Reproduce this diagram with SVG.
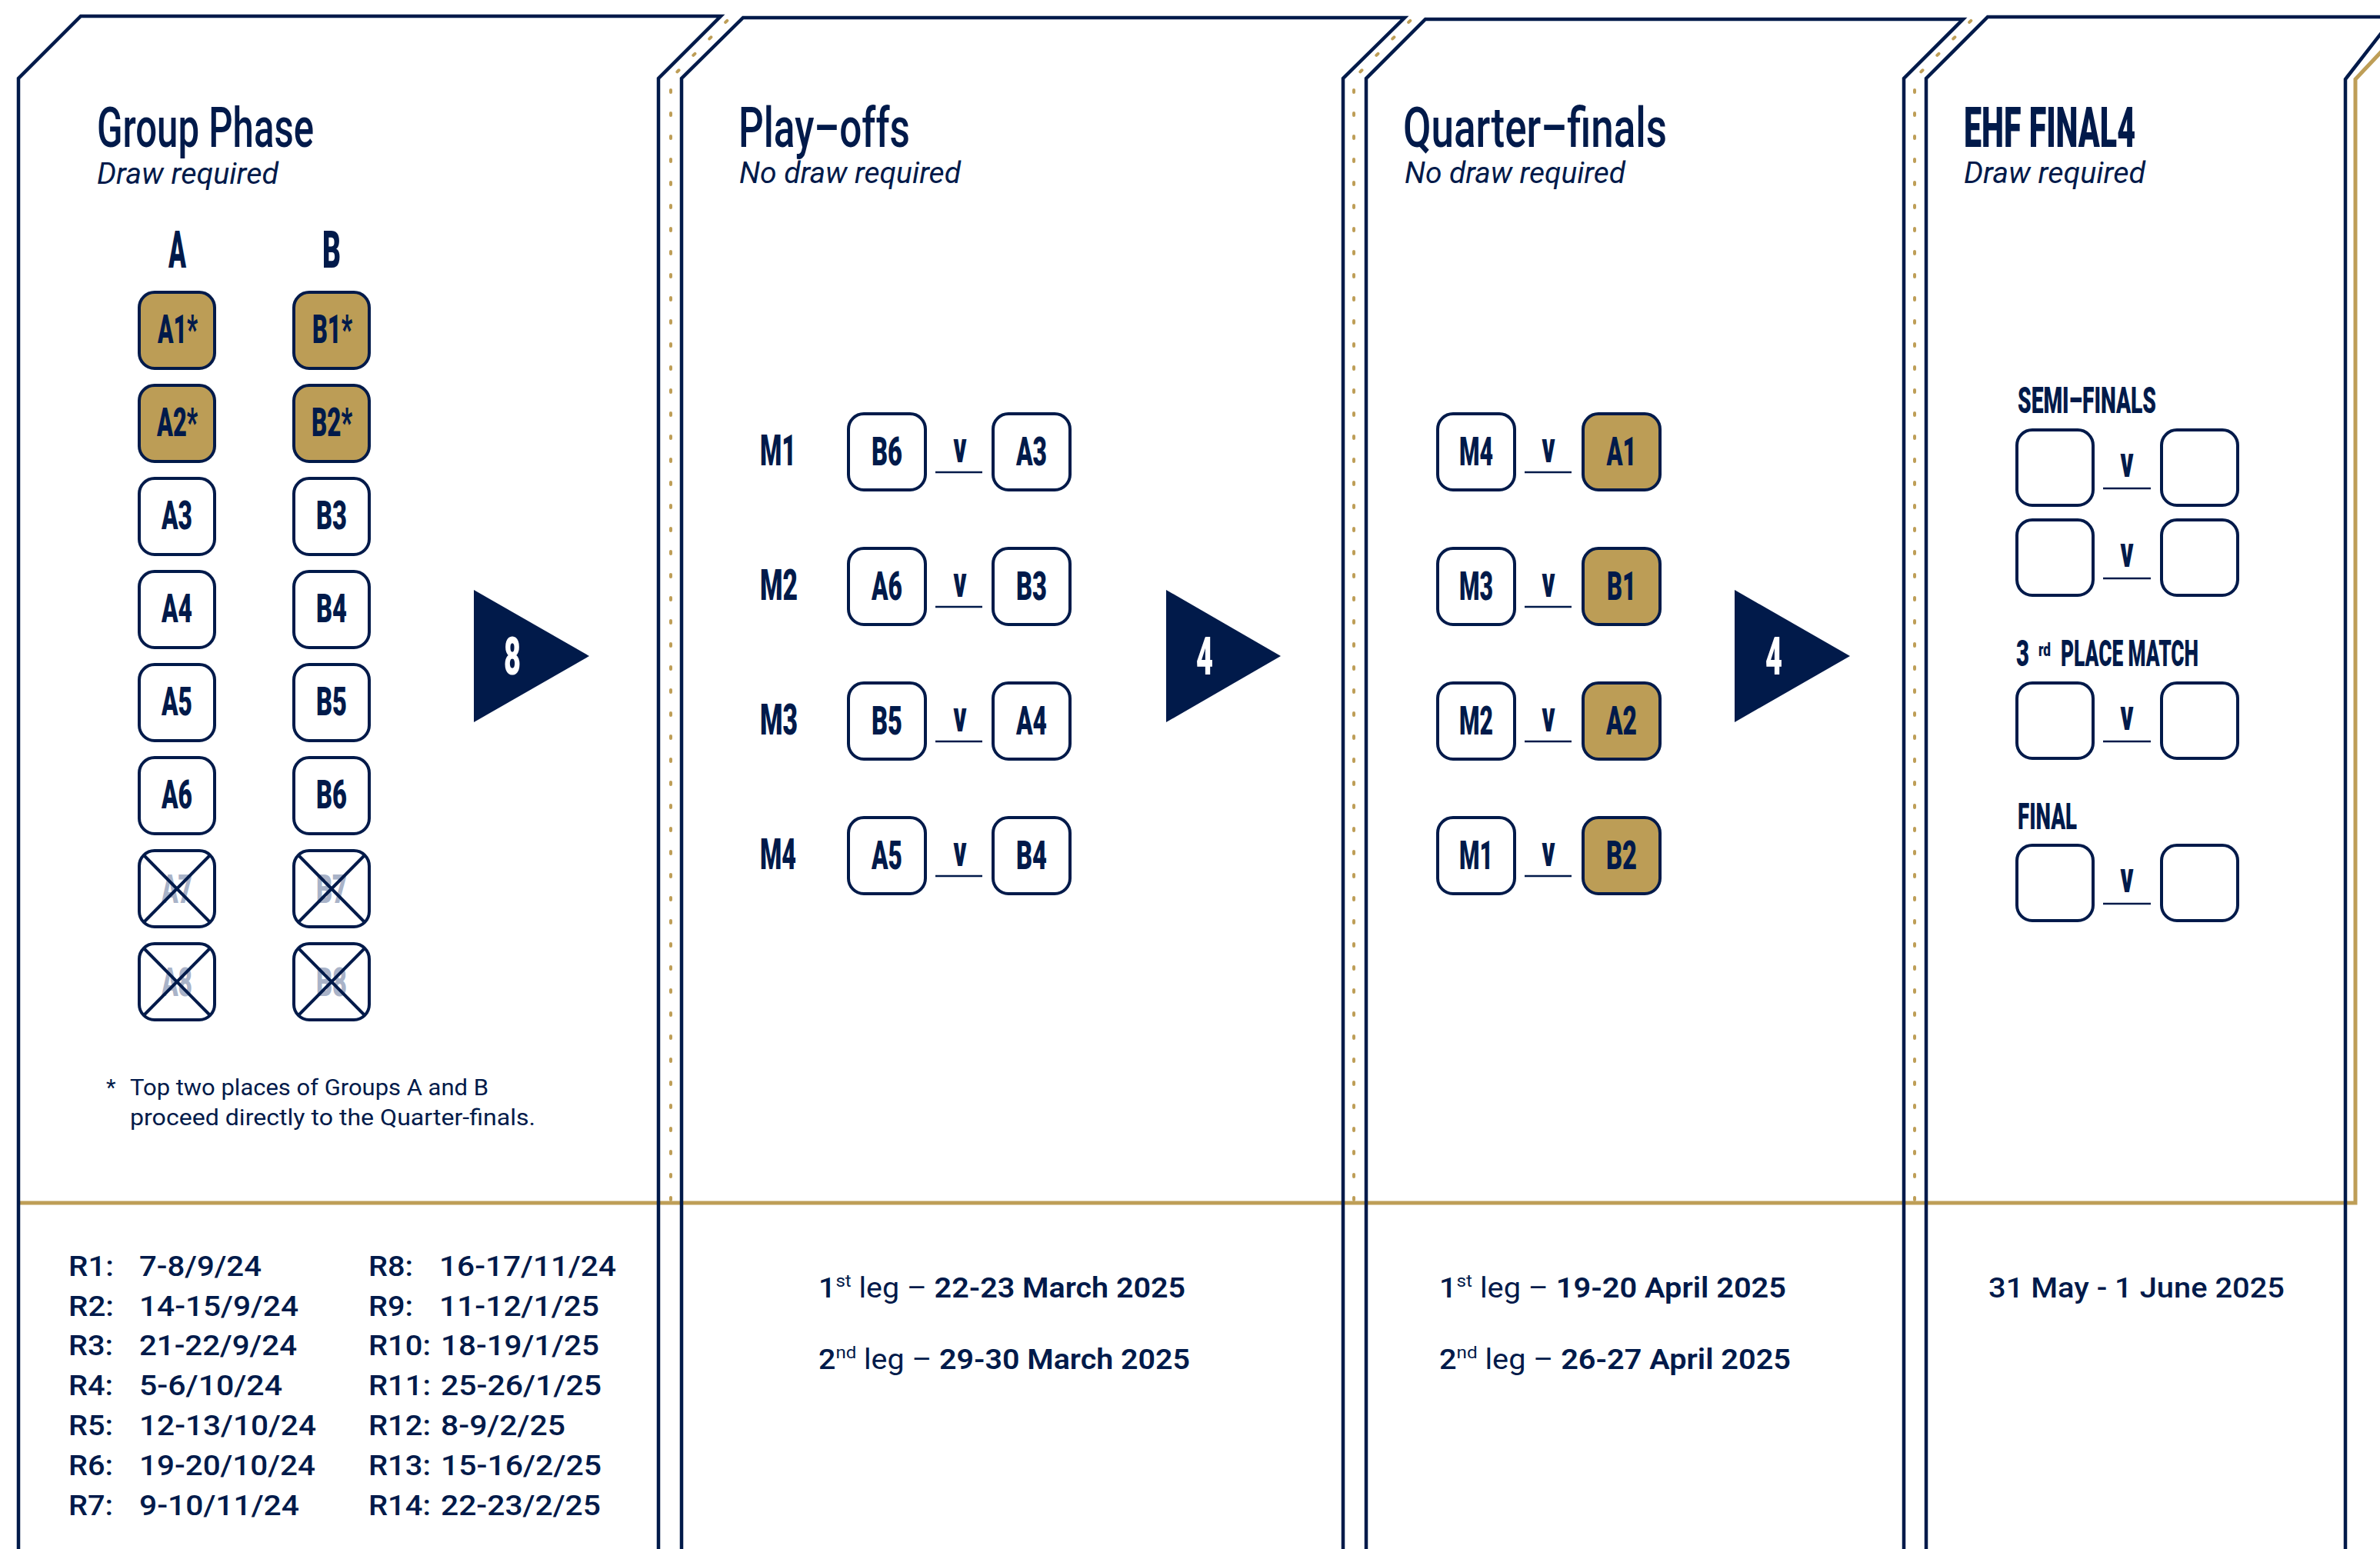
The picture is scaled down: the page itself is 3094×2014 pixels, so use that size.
<svg xmlns="http://www.w3.org/2000/svg" width="3094" height="2014" viewBox="0 0 3094 2014">
<defs>
<style>
.nv{fill:none;stroke:#011A4A;stroke-width:4.5}
.gd{fill:none;stroke:#BE9E57;stroke-width:5}
.dash{fill:none;stroke:#BE9E57;stroke-width:4;stroke-dasharray:3 27;stroke-linecap:round}
.box{fill:#fff;stroke:#011A4A;stroke-width:4}
.gbox{fill:#BC9D56;stroke:#011A4A;stroke-width:4}
.xl{stroke:#011A4A;stroke-width:4}
.ul{stroke:#011A4A;stroke-width:2.5}
.t{font-family:Roboto,"Liberation Sans",sans-serif;fill:#011A4A}
.ttl{font-size:73px;font-weight:500}
.ttlb{font-size:73px;font-weight:900}
.sub{font-size:38px;font-style:italic;font-weight:400}
.hd{font-size:67px;font-weight:900}
.lb{font-size:52px;font-weight:900;text-anchor:middle}
.lbs{font-size:52px;font-weight:900}
.gray{fill:#A9B3C8}
.ml{font-size:56px;font-weight:900}
.v{font-size:58px;font-weight:900;text-anchor:middle}
.num{font-size:69px;font-weight:900;fill:#fff;text-anchor:middle}
.fh{font-size:48px;font-weight:900}
.sup{font-size:24px;font-weight:900}
.fn{font-size:29px;font-weight:400}
.dt{font-size:36px;font-weight:500}
</style>
</defs>
<rect width="3094" height="2014" fill="#fff"/>

<g id="frame">
<path class="gd" d="M24,1564 H3062 V103 L3110,52"/>
<path class="dash" d="M872,1560 V102 L950,22"/>
<path class="dash" d="M1760,1560 V102 L1838,22"/>
<path class="dash" d="M2489,1560 V102 L2567,22"/>
<path class="nv" d="M24,2014 V102 L105,21 H937 L856,102 V2014"/>
<path class="nv" d="M886,2014 V102 L966,23 H1826 L1746,102 V2014"/>
<path class="nv" d="M1776,2014 V102 L1853,25 H2552 L2475,102 V2014"/>
<path class="nv" d="M2504,2014 V102 L2584,22 H3112 L3049,103 V2014"/>
</g>

<g id="titles">
<text class="t ttl" x="126" y="191" textLength="282" lengthAdjust="spacingAndGlyphs">Group Phase</text>
<text class="t sub" x="126" y="239" textLength="236" lengthAdjust="spacingAndGlyphs">Draw required</text>
<text class="t ttl" x="960" y="191" textLength="223" lengthAdjust="spacingAndGlyphs">Play–offs</text>
<text class="t sub" x="961" y="238" textLength="288" lengthAdjust="spacingAndGlyphs">No draw required</text>
<text class="t ttl" x="1824" y="191" textLength="343" lengthAdjust="spacingAndGlyphs">Quarter–finals</text>
<text class="t sub" x="1826" y="238" textLength="287" lengthAdjust="spacingAndGlyphs">No draw required</text>
<text class="t ttlb" x="2553" y="191" textLength="223" lengthAdjust="spacingAndGlyphs">EHF FINAL4</text>
<text class="t sub" x="2553" y="238" textLength="236" lengthAdjust="spacingAndGlyphs">Draw required</text>
</g>

<g id="group-phase">
<text class="t hd" x="219" y="348" textLength="23" lengthAdjust="spacingAndGlyphs">A</text>
<text class="t hd" x="419" y="348" textLength="24" lengthAdjust="spacingAndGlyphs">B</text>
<g id="A1"><rect class="gbox" x="181" y="380" width="98" height="99" rx="20"/><text class="t lbs" x="205" y="446" textLength="52" lengthAdjust="spacingAndGlyphs">A1*</text></g>
<g id="B1"><rect class="gbox" x="382" y="380" width="98" height="99" rx="20"/><text class="t lbs" x="406" y="446" textLength="52" lengthAdjust="spacingAndGlyphs">B1*</text></g>
<g id="A2"><rect class="gbox" x="181" y="501" width="98" height="99" rx="20"/><text class="t lbs" x="204" y="567" textLength="53" lengthAdjust="spacingAndGlyphs">A2*</text></g>
<g id="B2"><rect class="gbox" x="382" y="501" width="98" height="99" rx="20"/><text class="t lbs" x="405" y="567" textLength="53" lengthAdjust="spacingAndGlyphs">B2*</text></g>
<g id="A3"><rect class="box" x="181" y="622" width="98" height="99" rx="20"/><text class="t lb" x="230" y="688" textLength="40" lengthAdjust="spacingAndGlyphs">A3</text></g>
<g id="B3"><rect class="box" x="382" y="622" width="98" height="99" rx="20"/><text class="t lb" x="431" y="688" textLength="40" lengthAdjust="spacingAndGlyphs">B3</text></g>
<g id="A4"><rect class="box" x="181" y="743" width="98" height="99" rx="20"/><text class="t lb" x="230" y="809" textLength="40" lengthAdjust="spacingAndGlyphs">A4</text></g>
<g id="B4"><rect class="box" x="382" y="743" width="98" height="99" rx="20"/><text class="t lb" x="431" y="809" textLength="40" lengthAdjust="spacingAndGlyphs">B4</text></g>
<g id="A5"><rect class="box" x="181" y="864" width="98" height="99" rx="20"/><text class="t lb" x="230" y="930" textLength="40" lengthAdjust="spacingAndGlyphs">A5</text></g>
<g id="B5"><rect class="box" x="382" y="864" width="98" height="99" rx="20"/><text class="t lb" x="431" y="930" textLength="40" lengthAdjust="spacingAndGlyphs">B5</text></g>
<g id="A6"><rect class="box" x="181" y="985" width="98" height="99" rx="20"/><text class="t lb" x="230" y="1051" textLength="40" lengthAdjust="spacingAndGlyphs">A6</text></g>
<g id="B6"><rect class="box" x="382" y="985" width="98" height="99" rx="20"/><text class="t lb" x="431" y="1051" textLength="40" lengthAdjust="spacingAndGlyphs">B6</text></g>
<g id="A7"><rect class="box" x="181" y="1106" width="98" height="99" rx="20"/><text class="t lb gray" x="230" y="1174" textLength="40" lengthAdjust="spacingAndGlyphs">A7</text><line class="xl" x1="188" y1="1113" x2="272" y2="1198"/><line class="xl" x1="272" y1="1113" x2="188" y2="1198"/></g>
<g id="B7"><rect class="box" x="382" y="1106" width="98" height="99" rx="20"/><text class="t lb gray" x="431" y="1174" textLength="40" lengthAdjust="spacingAndGlyphs">B7</text><line class="xl" x1="389" y1="1113" x2="473" y2="1198"/><line class="xl" x1="473" y1="1113" x2="389" y2="1198"/></g>
<g id="A8"><rect class="box" x="181" y="1227" width="98" height="99" rx="20"/><text class="t lb gray" x="230" y="1295" textLength="40" lengthAdjust="spacingAndGlyphs">A8</text><line class="xl" x1="188" y1="1234" x2="272" y2="1319"/><line class="xl" x1="272" y1="1234" x2="188" y2="1319"/></g>
<g id="B8"><rect class="box" x="382" y="1227" width="98" height="99" rx="20"/><text class="t lb gray" x="431" y="1295" textLength="40" lengthAdjust="spacingAndGlyphs">B8</text><line class="xl" x1="389" y1="1234" x2="473" y2="1319"/><line class="xl" x1="473" y1="1234" x2="389" y2="1319"/></g>
<g id="footnote">
<text class="t fn" x="138" y="1424">*</text>
<text class="t fn" x="169" y="1424" textLength="466" lengthAdjust="spacingAndGlyphs">Top two places of Groups A and B</text>
<text class="t fn" x="169" y="1463" textLength="527" lengthAdjust="spacingAndGlyphs">proceed directly to the Quarter-finals.</text>
</g>
<g id="rounds">
<text class="t dt" x="89" y="1659" textLength="59" lengthAdjust="spacingAndGlyphs">R1:</text><text class="t dt" x="181" y="1659" textLength="159" lengthAdjust="spacingAndGlyphs">7-8/9/24</text>
<text class="t dt" x="89" y="1711" textLength="59" lengthAdjust="spacingAndGlyphs">R2:</text><text class="t dt" x="181" y="1711" textLength="207" lengthAdjust="spacingAndGlyphs">14-15/9/24</text>
<text class="t dt" x="89" y="1762" textLength="58" lengthAdjust="spacingAndGlyphs">R3:</text><text class="t dt" x="181" y="1762" textLength="205" lengthAdjust="spacingAndGlyphs">21-22/9/24</text>
<text class="t dt" x="89" y="1814" textLength="58" lengthAdjust="spacingAndGlyphs">R4:</text><text class="t dt" x="181" y="1814" textLength="186" lengthAdjust="spacingAndGlyphs">5-6/10/24</text>
<text class="t dt" x="89" y="1866" textLength="58" lengthAdjust="spacingAndGlyphs">R5:</text><text class="t dt" x="181" y="1866" textLength="230" lengthAdjust="spacingAndGlyphs">12-13/10/24</text>
<text class="t dt" x="89" y="1918" textLength="58" lengthAdjust="spacingAndGlyphs">R6:</text><text class="t dt" x="181" y="1918" textLength="229" lengthAdjust="spacingAndGlyphs">19-20/10/24</text>
<text class="t dt" x="89" y="1970" textLength="58" lengthAdjust="spacingAndGlyphs">R7:</text><text class="t dt" x="181" y="1970" textLength="208" lengthAdjust="spacingAndGlyphs">9-10/11/24</text>
<text class="t dt" x="479" y="1659" textLength="58" lengthAdjust="spacingAndGlyphs">R8:</text><text class="t dt" x="571" y="1659" textLength="230" lengthAdjust="spacingAndGlyphs">16-17/11/24</text>
<text class="t dt" x="479" y="1711" textLength="58" lengthAdjust="spacingAndGlyphs">R9:</text><text class="t dt" x="571" y="1711" textLength="208" lengthAdjust="spacingAndGlyphs">11-12/1/25</text>
<text class="t dt" x="479" y="1762" textLength="81" lengthAdjust="spacingAndGlyphs">R10:</text><text class="t dt" x="573" y="1762" textLength="206" lengthAdjust="spacingAndGlyphs">18-19/1/25</text>
<text class="t dt" x="479" y="1814" textLength="81" lengthAdjust="spacingAndGlyphs">R11:</text><text class="t dt" x="573" y="1814" textLength="209" lengthAdjust="spacingAndGlyphs">25-26/1/25</text>
<text class="t dt" x="479" y="1866" textLength="81" lengthAdjust="spacingAndGlyphs">R12:</text><text class="t dt" x="573" y="1866" textLength="162" lengthAdjust="spacingAndGlyphs">8-9/2/25</text>
<text class="t dt" x="479" y="1918" textLength="81" lengthAdjust="spacingAndGlyphs">R13:</text><text class="t dt" x="573" y="1918" textLength="209" lengthAdjust="spacingAndGlyphs">15-16/2/25</text>
<text class="t dt" x="479" y="1970" textLength="81" lengthAdjust="spacingAndGlyphs">R14:</text><text class="t dt" x="573" y="1970" textLength="208" lengthAdjust="spacingAndGlyphs">22-23/2/25</text>
</g>
</g>

<g id="play-offs">
<g id="PO-M1"><text class="t ml" x="988" y="605" textLength="47" lengthAdjust="spacingAndGlyphs">M1</text>
<rect class="box" x="1103" y="538" width="100" height="99" rx="20"/><text class="t lb" x="1153" y="605" textLength="40" lengthAdjust="spacingAndGlyphs">B6</text>
<text class="t v" x="1248" y="601" textLength="17" lengthAdjust="spacingAndGlyphs">v</text><line class="ul" x1="1216" y1="614" x2="1277" y2="614"/>
<rect class="box" x="1291" y="538" width="100" height="99" rx="20"/><text class="t lb" x="1341" y="605" textLength="40" lengthAdjust="spacingAndGlyphs">A3</text></g>
<g id="PO-M2"><text class="t ml" x="988" y="780" textLength="49" lengthAdjust="spacingAndGlyphs">M2</text>
<rect class="box" x="1103" y="713" width="100" height="99" rx="20"/><text class="t lb" x="1153" y="780" textLength="40" lengthAdjust="spacingAndGlyphs">A6</text>
<text class="t v" x="1248" y="776" textLength="17" lengthAdjust="spacingAndGlyphs">v</text><line class="ul" x1="1216" y1="789" x2="1277" y2="789"/>
<rect class="box" x="1291" y="713" width="100" height="99" rx="20"/><text class="t lb" x="1341" y="780" textLength="40" lengthAdjust="spacingAndGlyphs">B3</text></g>
<g id="PO-M3"><text class="t ml" x="988" y="955" textLength="49" lengthAdjust="spacingAndGlyphs">M3</text>
<rect class="box" x="1103" y="888" width="100" height="99" rx="20"/><text class="t lb" x="1153" y="955" textLength="40" lengthAdjust="spacingAndGlyphs">B5</text>
<text class="t v" x="1248" y="951" textLength="17" lengthAdjust="spacingAndGlyphs">v</text><line class="ul" x1="1216" y1="964" x2="1277" y2="964"/>
<rect class="box" x="1291" y="888" width="100" height="99" rx="20"/><text class="t lb" x="1341" y="955" textLength="40" lengthAdjust="spacingAndGlyphs">A4</text></g>
<g id="PO-M4"><text class="t ml" x="988" y="1130" textLength="47" lengthAdjust="spacingAndGlyphs">M4</text>
<rect class="box" x="1103" y="1063" width="100" height="99" rx="20"/><text class="t lb" x="1153" y="1130" textLength="40" lengthAdjust="spacingAndGlyphs">A5</text>
<text class="t v" x="1248" y="1126" textLength="17" lengthAdjust="spacingAndGlyphs">v</text><line class="ul" x1="1216" y1="1139" x2="1277" y2="1139"/>
<rect class="box" x="1291" y="1063" width="100" height="99" rx="20"/><text class="t lb" x="1341" y="1130" textLength="40" lengthAdjust="spacingAndGlyphs">B4</text></g>
<text class="t dt" x="1064" y="1687" textLength="477" lengthAdjust="spacingAndGlyphs"><tspan>1</tspan><tspan font-size="22" font-weight="400" dy="-14">st</tspan><tspan dy="14" font-weight="400"> leg – </tspan><tspan font-weight="600">22-23 March 2025</tspan></text>
<text class="t dt" x="1064" y="1780" textLength="483" lengthAdjust="spacingAndGlyphs"><tspan>2</tspan><tspan font-size="22" font-weight="400" dy="-14">nd</tspan><tspan dy="14" font-weight="400"> leg – </tspan><tspan font-weight="600">29-30 March 2025</tspan></text>
</g>

<g id="quarter-finals">
<g id="QF1"><rect class="box" x="1869" y="538" width="100" height="99" rx="20"/><text class="t lb" x="1919" y="605" textLength="44" lengthAdjust="spacingAndGlyphs">M4</text>
<text class="t v" x="2013" y="601" textLength="17" lengthAdjust="spacingAndGlyphs">v</text><line class="ul" x1="1982" y1="614" x2="2043" y2="614"/>
<rect class="gbox" x="2058" y="538" width="100" height="99" rx="20"/><text class="t lb" x="2108" y="605" textLength="39" lengthAdjust="spacingAndGlyphs">A1</text></g>
<g id="QF2"><rect class="box" x="1869" y="713" width="100" height="99" rx="20"/><text class="t lb" x="1919" y="780" textLength="44" lengthAdjust="spacingAndGlyphs">M3</text>
<text class="t v" x="2013" y="776" textLength="17" lengthAdjust="spacingAndGlyphs">v</text><line class="ul" x1="1982" y1="789" x2="2043" y2="789"/>
<rect class="gbox" x="2058" y="713" width="100" height="99" rx="20"/><text class="t lb" x="2108" y="780" textLength="38" lengthAdjust="spacingAndGlyphs">B1</text></g>
<g id="QF3"><rect class="box" x="1869" y="888" width="100" height="99" rx="20"/><text class="t lb" x="1919" y="955" textLength="44" lengthAdjust="spacingAndGlyphs">M2</text>
<text class="t v" x="2013" y="951" textLength="17" lengthAdjust="spacingAndGlyphs">v</text><line class="ul" x1="1982" y1="964" x2="2043" y2="964"/>
<rect class="gbox" x="2058" y="888" width="100" height="99" rx="20"/><text class="t lb" x="2108" y="955" textLength="40" lengthAdjust="spacingAndGlyphs">A2</text></g>
<g id="QF4"><rect class="box" x="1869" y="1063" width="100" height="99" rx="20"/><text class="t lb" x="1919" y="1130" textLength="44" lengthAdjust="spacingAndGlyphs">M1</text>
<text class="t v" x="2013" y="1126" textLength="17" lengthAdjust="spacingAndGlyphs">v</text><line class="ul" x1="1982" y1="1139" x2="2043" y2="1139"/>
<rect class="gbox" x="2058" y="1063" width="100" height="99" rx="20"/><text class="t lb" x="2108" y="1130" textLength="40" lengthAdjust="spacingAndGlyphs">B2</text></g>
<text class="t dt" x="1871" y="1687" textLength="451" lengthAdjust="spacingAndGlyphs"><tspan>1</tspan><tspan font-size="22" font-weight="400" dy="-14">st</tspan><tspan dy="14" font-weight="400"> leg – </tspan><tspan font-weight="600">19-20 April 2025</tspan></text>
<text class="t dt" x="1871" y="1780" textLength="457" lengthAdjust="spacingAndGlyphs"><tspan>2</tspan><tspan font-size="22" font-weight="400" dy="-14">nd</tspan><tspan dy="14" font-weight="400"> leg – </tspan><tspan font-weight="600">26-27 April 2025</tspan></text>
</g>

<g id="final4">
<text class="t fh" x="2623" y="537" textLength="180" lengthAdjust="spacingAndGlyphs">SEMI–FINALS</text>
<g id="SF1"><rect class="box" x="2622" y="559" width="99" height="98" rx="20"/><text class="t v" x="2765" y="620" textLength="17" lengthAdjust="spacingAndGlyphs">v</text><line class="ul" x1="2734" y1="635" x2="2796" y2="635"/><rect class="box" x="2810" y="559" width="99" height="98" rx="20"/></g>
<g id="SF2"><rect class="box" x="2622" y="676" width="99" height="98" rx="20"/><text class="t v" x="2765" y="737" textLength="17" lengthAdjust="spacingAndGlyphs">v</text><line class="ul" x1="2734" y1="752" x2="2796" y2="752"/><rect class="box" x="2810" y="676" width="99" height="98" rx="20"/></g>
<text class="t fh" x="2621" y="866" textLength="17" lengthAdjust="spacingAndGlyphs">3</text>
<text class="t sup" x="2650" y="853" textLength="16" lengthAdjust="spacingAndGlyphs">rd</text>
<text class="t fh" x="2679" y="866" textLength="179" lengthAdjust="spacingAndGlyphs">PLACE MATCH</text>
<g id="P3"><rect class="box" x="2622" y="888" width="99" height="98" rx="20"/><text class="t v" x="2765" y="949" textLength="17" lengthAdjust="spacingAndGlyphs">v</text><line class="ul" x1="2734" y1="964" x2="2796" y2="964"/><rect class="box" x="2810" y="888" width="99" height="98" rx="20"/></g>
<text class="t fh" x="2623" y="1078" textLength="77" lengthAdjust="spacingAndGlyphs">FINAL</text>
<g id="F"><rect class="box" x="2622" y="1099" width="99" height="98" rx="20"/><text class="t v" x="2765" y="1160" textLength="17" lengthAdjust="spacingAndGlyphs">v</text><line class="ul" x1="2734" y1="1175" x2="2796" y2="1175"/><rect class="box" x="2810" y="1099" width="99" height="98" rx="20"/></g>
<text class="t dt" x="2585" y="1687" textLength="385" lengthAdjust="spacingAndGlyphs" font-weight="600">31 May - 1 June 2025</text>
</g>

<g id="connectors">
<g id="arrow-8"><polygon points="616,767 766,853 616,939" fill="#011A4A"/><text class="t num" x="666" y="877" textLength="22" lengthAdjust="spacingAndGlyphs">8</text></g>
<g id="arrow-4a"><polygon points="1516,767 1665,853 1516,939" fill="#011A4A"/><text class="t num" x="1566" y="877" textLength="22" lengthAdjust="spacingAndGlyphs">4</text></g>
<g id="arrow-4b"><polygon points="2255,767 2405,853 2255,939" fill="#011A4A"/><text class="t num" x="2306" y="877" textLength="22" lengthAdjust="spacingAndGlyphs">4</text></g>
</g>
</svg>
